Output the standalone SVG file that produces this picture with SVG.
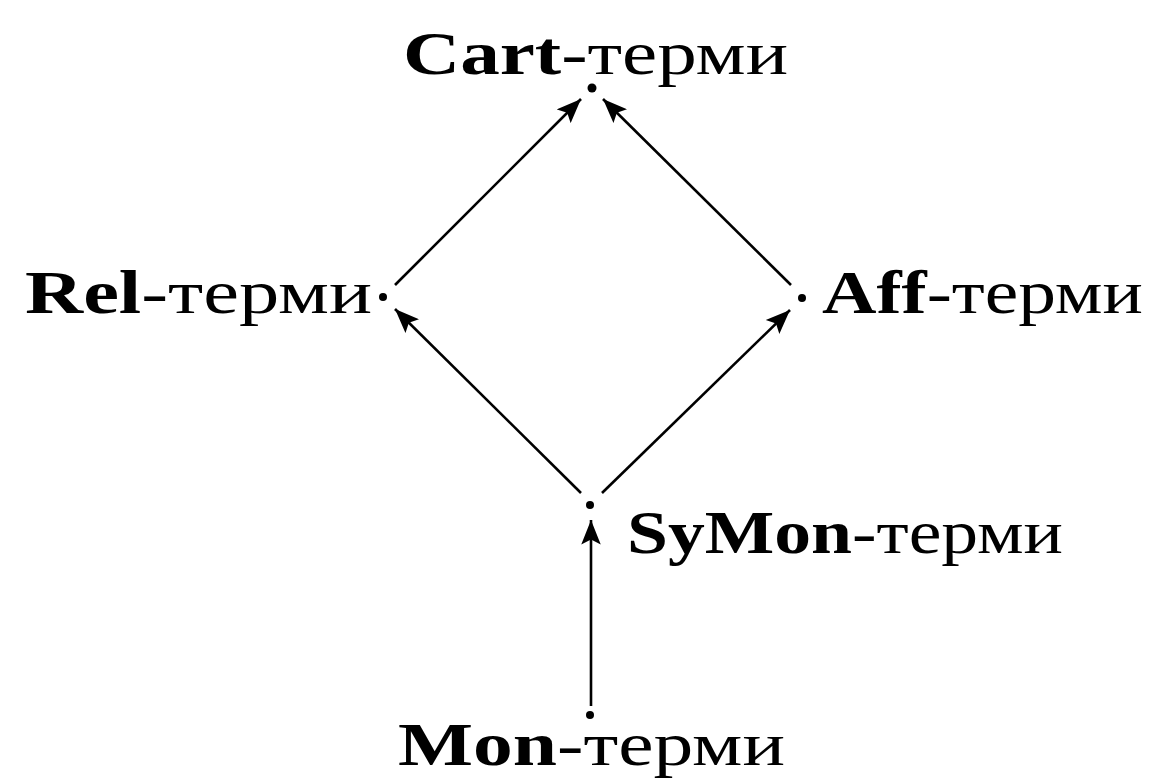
<svg xmlns="http://www.w3.org/2000/svg" width="1152" height="781" viewBox="0 0 1152 781">
<style>
text{font-family:"Liberation Serif","DejaVu Serif",serif;font-size:62px;fill:#000}
.b{font-weight:bold}
.e{stroke:#000;stroke-width:2.6;fill:none;marker-end:url(#ah)}
.d{fill:#000}
</style>
<defs>
<marker id="ah" viewBox="0 0 10 8" refX="10" refY="4" markerWidth="10" markerHeight="7.5" markerUnits="strokeWidth" orient="auto">
<path d="M0,0 L10,4 L0,8 L2,4 Z" fill="#000"/>
</marker>
</defs>
<rect width="1152" height="781" fill="#fff"/>
<g id="connectors">
<line class="e" x1="395" y1="285" x2="581" y2="99"/>
<line class="e" x1="791" y1="285" x2="603" y2="99"/>
<line class="e" x1="581" y1="493" x2="395" y2="309"/>
<line class="e" x1="602" y1="493" x2="790" y2="310"/>
<line class="e" x1="591" y1="706" x2="591" y2="520"/>
</g>
<g id="cart"><circle class="d" cx="592" cy="88" r="4.5"/><text x="403" y="74" textLength="385" lengthAdjust="spacingAndGlyphs"><tspan class="b">Cart</tspan>-терми</text></g>
<g id="rel"><circle class="d" cx="383" cy="297" r="4"/><text x="25" y="313" textLength="347" lengthAdjust="spacingAndGlyphs"><tspan class="b">Rel</tspan>-терми</text></g>
<g id="aff"><circle class="d" cx="802" cy="298" r="4"/><text x="822" y="313" textLength="321" lengthAdjust="spacingAndGlyphs"><tspan class="b">Aff</tspan>-терми</text></g>
<g id="symon"><circle class="d" cx="590" cy="505" r="4"/><text x="627" y="553" textLength="436" lengthAdjust="spacingAndGlyphs"><tspan class="b">SyMon</tspan>-терми</text></g>
<g id="mon"><circle class="d" cx="590" cy="715" r="4"/><text x="398" y="765" font-size="59" textLength="387" lengthAdjust="spacingAndGlyphs"><tspan class="b">Mon</tspan>-терми</text></g>
</svg>
